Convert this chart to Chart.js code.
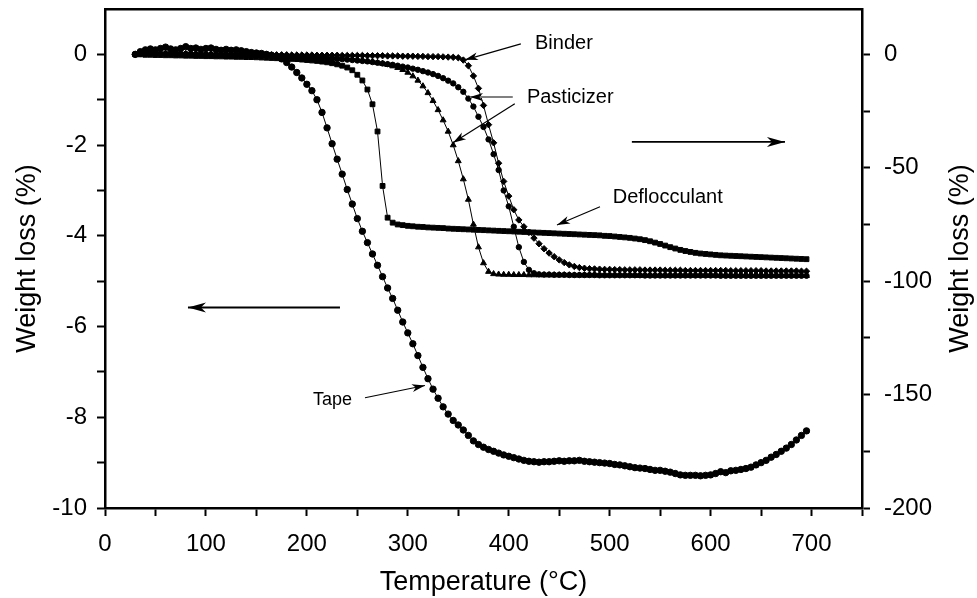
<!DOCTYPE html>
<html>
<head>
<meta charset="utf-8">
<script src="https://cdn.jsdelivr.net/npm/chart.js@4.4.0/dist/chart.umd.min.js"></script>
<style>
  body { margin: 0; background: #fff; }
  canvas { display: block; }
</style>
</head>
<body>
<canvas id="tga" width="977" height="598"></canvas>
<script>
// Temperatura de cada punto (°C)
const temps = [
  30, 35, 40, 45, 50, 55, 60, 65, 70, 75,
  80, 85, 90, 95, 100, 105, 110, 115, 120, 125,
  130, 135, 140, 145, 150, 155, 160, 165, 170, 175,
  180, 185, 190, 195, 200, 205, 210, 215, 220, 225,
  230, 235, 240, 245, 250, 255, 260, 265, 270, 275,
  280, 285, 290, 295, 300, 305, 310, 315, 320, 325,
  330, 335, 340, 345, 350, 355, 360, 365, 370, 375,
  380, 385, 390, 395, 400, 405, 410, 415, 420, 425,
  430, 435, 440, 445, 450, 455, 460, 465, 470, 475,
  480, 485, 490, 495, 500, 505, 510, 515, 520, 525,
  530, 535, 540, 545, 550, 555, 560, 565, 570, 575,
  580, 585, 590, 595, 600, 605, 610, 615, 620, 625,
  630, 635, 640, 645, 650, 655, 660, 665, 670, 675,
  680, 685, 690, 695,
];

// Tape -> eje izquierdo (%)
const tape = [
  0, 0.06, 0.1, 0.12, 0.1, 0.13, 0.16, 0.12, 0.1, 0.13,
  0.17, 0.13, 0.14, 0.11, 0.13, 0.14, 0.11, 0.09, 0.11, 0.09,
  0.1, 0.08, 0.06, 0.04, 0.03, 0.02, 0, -0.02, -0.05, -0.1,
  -0.18, -0.28, -0.4, -0.52, -0.66, -0.8, -1.0, -1.28, -1.62, -1.97,
  -2.31, -2.64, -2.98, -3.3, -3.62, -3.9, -4.15, -4.4, -4.65, -4.9,
  -5.15, -5.38, -5.64, -5.9, -6.14, -6.38, -6.64, -6.9, -7.15, -7.38,
  -7.58, -7.77, -7.93, -8.07, -8.17, -8.28, -8.4, -8.52, -8.6, -8.66,
  -8.71, -8.75, -8.79, -8.83, -8.86, -8.89, -8.92, -8.95, -8.97, -8.98,
  -8.99, -8.98, -8.98, -8.97, -8.96, -8.97, -8.96, -8.96, -8.95, -8.97,
  -8.98, -8.99, -9.0, -9.01, -9.02, -9.04, -9.05, -9.07, -9.09, -9.11,
  -9.12, -9.13, -9.15, -9.17, -9.17, -9.19, -9.21, -9.24, -9.27, -9.28,
  -9.28, -9.28, -9.29, -9.28, -9.27, -9.24, -9.2, -9.22, -9.18, -9.17,
  -9.15, -9.13, -9.1, -9.05, -9.0, -8.95, -8.88, -8.82, -8.75, -8.68,
  -8.6, -8.5, -8.4, -8.3,
];

// Deflocculant -> eje derecho (%)
const deflocculant = [
  0, 0, -0.2, -0.2, -0.3, -0.3, -0.4, -0.4, -0.5, -0.5,
  -0.6, -0.6, -0.7, -0.7, -0.8, -0.8, -0.9, -0.9, -1.0, -1.0,
  -1.1, -1.1, -1.2, -1.2, -1.3, -1.4, -1.5, -1.6, -1.7, -1.8,
  -1.9, -2.0, -2.1, -2.3, -2.5, -2.7, -2.9, -3.2, -3.5, -3.9,
  -4.4, -5.0, -5.8, -7.0, -9.0, -11.5, -15.5, -22, -34, -58,
  -72, -74.2, -75, -75.3, -75.6, -75.8, -76, -76.1, -76.3, -76.4,
  -76.5, -76.6, -76.8, -76.9, -77, -77.1, -77.2, -77.3, -77.4, -77.5,
  -77.6, -77.7, -77.8, -77.9, -78, -78.1, -78.2, -78.3, -78.4, -78.5,
  -78.6, -78.7, -78.8, -78.9, -79, -79.1, -79.2, -79.3, -79.4, -79.5,
  -79.6, -79.7, -79.8, -80, -80.1, -80.3, -80.5, -80.7, -80.9, -81.2,
  -81.5, -81.9, -82.4, -83, -83.6, -84.3, -85, -85.6, -86.2, -86.7,
  -87.1, -87.5, -87.8, -88, -88.2, -88.4, -88.6, -88.7, -88.8, -88.9,
  -89, -89.1, -89.2, -89.3, -89.4, -89.5, -89.6, -89.7, -89.8, -89.9,
  -90, -90.1, -90.2, -90.3,
];

// Binder -> eje derecho (%)
const binder = [
  0, 0.3, 0.4, 0.3, 0.4, 0.3, 0.4, 0.3, 0.3, 0.4,
  0.3, 0.3, 0.2, 0.2, 0.2, 0.1, 0.1, 0.1, 0, 0,
  0, 0, -0.1, -0.1, -0.1, -0.1, -0.2, -0.2, -0.2, -0.2,
  -0.2, -0.3, -0.3, -0.3, -0.3, -0.3, -0.4, -0.4, -0.4, -0.4,
  -0.4, -0.5, -0.5, -0.5, -0.5, -0.5, -0.6, -0.6, -0.6, -0.6,
  -0.7, -0.7, -0.7, -0.8, -0.8, -0.8, -0.9, -0.9, -1.0, -1.0,
  -1.0, -1.1, -1.2, -1.3, -1.5, -2.5, -5, -9.5, -15, -22.5,
  -31, -39, -48, -56, -62.5, -68.5, -73, -76, -78.5, -81,
  -83.5, -85.7, -87.6, -89.2, -90.6, -91.8, -92.8, -93.5, -94, -94.3,
  -94.5, -94.6, -94.7, -94.8, -94.8, -94.9, -94.9, -95, -95, -95,
  -95, -95.1, -95.1, -95.1, -95.1, -95.2, -95.2, -95.2, -95.2, -95.3,
  -95.3, -95.3, -95.3, -95.3, -95.3, -95.3, -95.3, -95.3, -95.4, -95.4,
  -95.4, -95.4, -95.4, -95.4, -95.4, -95.5, -95.5, -95.5, -95.5, -95.5,
  -95.5, -95.5, -95.6, -95.6,
];

// Plasticizer (triángulos) -> eje derecho (%)
const plastTri = [
  0, 0.2, 0.3, 0.2, 0.3, 0.2, 0.3, 0.2, 0.2, 0.2,
  0.1, 0.1, 0.1, 0, 0, 0, -0.1, -0.1, -0.1, -0.2,
  -0.2, -0.2, -0.3, -0.3, -0.3, -0.4, -0.4, -0.5, -0.5, -0.6,
  -0.6, -0.7, -0.7, -0.8, -0.9, -1.0, -1.1, -1.2, -1.3, -1.5,
  -1.6, -1.8, -2.0, -2.2, -2.4, -2.7, -3.0, -3.3, -3.7, -4.1,
  -4.6, -5.2, -5.9, -6.8, -8, -9.6, -11.5, -14, -17, -20.5,
  -24.5, -29, -34, -40, -47, -55, -64, -75, -85, -92,
  -95.8, -96.8, -97, -97.1, -97.1, -97.2, -97.2, -97.2, -97.3, -97.3,
  -97.3, -97.3, -97.3, -97.3, -97.3, -97.3, -97.3, -97.4, -97.4, -97.4,
  -97.4, -97.4, -97.4, -97.4, -97.4, -97.4, -97.4, -97.4, -97.4, -97.5,
  -97.5, -97.5, -97.5, -97.5, -97.5, -97.5, -97.5, -97.5, -97.5, -97.5,
  -97.5, -97.5, -97.5, -97.5, -97.5, -97.5, -97.5, -97.6, -97.6, -97.6,
  -97.6, -97.6, -97.6, -97.6, -97.6, -97.6, -97.6, -97.6, -97.6, -97.6,
  -97.6, -97.6, -97.6, -97.6,
];

// Plasticizer (círculos) -> eje derecho (%)
const plastCirc = [
  0, 0.2, 0.3, 0.3, 0.2, 0.3, 0.3, 0.2, 0.3, 0.2,
  0.2, 0.2, 0.1, 0.1, 0, 0, 0, -0.1, -0.1, -0.2,
  -0.2, -0.3, -0.3, -0.4, -0.4, -0.5, -0.5, -0.6, -0.7, -0.7,
  -0.8, -0.9, -1.0, -1.1, -1.2, -1.3, -1.4, -1.5, -1.7, -1.8,
  -2.0, -2.1, -2.3, -2.5, -2.7, -2.9, -3.1, -3.4, -3.7, -4.0,
  -4.3, -4.6, -5.0, -5.4, -5.8, -6.3, -6.8, -7.4, -8.0, -8.7,
  -9.5, -10.5, -11.6, -12.8, -14.5, -16.5, -19.5, -23, -27.5, -32,
  -37.5, -44, -51, -60, -67, -76, -85, -91.5, -95, -96.5,
  -97, -97.1, -97.1, -97.2, -97.2, -97.2, -97.3, -97.3, -97.3, -97.3,
  -97.3, -97.3, -97.4, -97.4, -97.4, -97.4, -97.4, -97.4, -97.4, -97.4,
  -97.4, -97.5, -97.5, -97.5, -97.5, -97.5, -97.5, -97.5, -97.5, -97.5,
  -97.5, -97.5, -97.5, -97.5, -97.5, -97.5, -97.6, -97.6, -97.6, -97.6,
  -97.6, -97.6, -97.6, -97.6, -97.6, -97.6, -97.6, -97.6, -97.6, -97.6,
  -97.6, -97.6, -97.6, -97.6,
];

// Ticks de los ejes
const xTicks = [0, 50, 100, 150, 200, 250, 300, 350, 400, 450, 500, 550, 600, 650, 700, 750];
const leftTicks = [-10, -9, -8, -7, -6, -5, -4, -3, -2, -1, 0];
const rightTicks = [-200, -175, -150, -125, -100, -75, -50, -25, 0];

// Anotaciones (coordenadas en unidades de datos: °C y eje izquierdo)
const notas = [
  { text: "Binder", x: 426, y: 0.25, size: 20 },
  { text: "Pasticizer", x: 418, y: -0.94, size: 20 },
  { text: "Deflocculant", x: 503, y: -3.16, size: 20 },
  { text: "Tape", x: 206, y: -7.61, size: 18 },
];
const flechas = [
  { from: [412, 0.23], to: [356.7, -0.12] },
  { from: [404, -0.94], to: [361.6, -0.94], color: "#808080", width: 2 },
  { from: [406, -1.09], to: [344.8, -1.95] },
  { from: [490.4, -3.36], to: [447.8, -3.76] },
  { from: [257.6, -7.57], to: [317, -7.3] },
  { from: [232.8, -5.58], to: [82.2, -5.58], big: true },
  { from: [522, -1.93], to: [673.7, -1.93], big: true },
];

const fuente = "'Liberation Sans', Arial, sans-serif";

const pares = (vals) => temps.map((t, i) => ({ x: t, y: vals[i] }));

function serie(label, vals, eje, estilo, radio) {
  return {
    label: label,
    data: pares(vals),
    yAxisID: eje,
    borderColor: "#000",
    borderWidth: 1,
    pointStyle: estilo,
    pointRadius: radio,
    pointBackgroundColor: "#000",
    pointBorderColor: "#000",
    pointBorderWidth: 1,
    tension: 0,
  };
}

function cabeza(ctx, x0, y0, x1, y1, len, ancho) {
  const ang = Math.atan2(y1 - y0, x1 - x0);
  ctx.save();
  ctx.translate(x1, y1);
  ctx.rotate(ang);
  ctx.beginPath();
  ctx.moveTo(0, 0);
  ctx.lineTo(-len, -ancho / 2);
  ctx.lineTo(-len * 0.72, 0);
  ctx.lineTo(-len, ancho / 2);
  ctx.closePath();
  ctx.fill();
  ctx.restore();
}

const extras = {
  id: "extras",
  afterDraw(chart) {
    const { ctx, chartArea: a, scales } = chart;
    const sx = scales.x, sy = scales.y;
    ctx.save();
    ctx.fillStyle = "#000";

    // flechas
    flechas.forEach((f) => {
      const x0 = sx.getPixelForValue(f.from[0]), y0 = sy.getPixelForValue(f.from[1]);
      const x1 = sx.getPixelForValue(f.to[0]), y1 = sy.getPixelForValue(f.to[1]);
      ctx.strokeStyle = f.color || "#000";
      ctx.lineWidth = f.width || (f.big ? 1.8 : 1.2);
      ctx.beginPath();
      ctx.moveTo(x0, y0);
      ctx.lineTo(x1, y1);
      ctx.stroke();
      ctx.fillStyle = "#000";
      if (f.big) cabeza(ctx, x0, y0, x1, y1, 18, 10);
      else cabeza(ctx, x0, y0, x1, y1, 13, 8);
    });

    // textos
    ctx.textAlign = "left";
    ctx.textBaseline = "middle";
    notas.forEach((n) => {
      ctx.font = n.size + "px " + fuente;
      ctx.fillText(n.text, sx.getPixelForValue(n.x), sy.getPixelForValue(n.y));
    });

    // títulos de ejes
    ctx.font = "27px " + fuente;
    ctx.textAlign = "center";
    ctx.textBaseline = "alphabetic";
    const cy = (a.top + a.bottom) / 2;
    ctx.fillText("Temperature (°C)", (a.left + a.right) / 2, 590);
    [35, 968].forEach((bx) => {
      ctx.save();
      ctx.translate(bx, cy);
      ctx.rotate(-Math.PI / 2);
      ctx.fillText("Weight loss (%)", 0, 0);
      ctx.restore();
    });
    ctx.restore();
  },
};

const ejeBase = (pos) => ({
  type: "linear",
  position: pos,
  grid: { drawOnChartArea: false, drawTicks: true, tickLength: 8, tickWidth: 2, tickColor: "#000" },
  border: { display: true, color: "#000", width: 2.5 },
});

// sin márgenes extra por las etiquetas de los extremos
const sinPadding = (s) => {
  s.paddingTop = 0;
  s.paddingBottom = 0;
  s.paddingLeft = 0;
  s.paddingRight = 0;
};

const ctxGrafico = document.getElementById("tga").getContext("2d");
new Chart(ctxGrafico, {
  type: "line",
  data: {
    datasets: [
      serie("Tape", tape, "y", "circle", 3.2),
      serie("Deflocculant", deflocculant, "y2", "rect", 3.4),
      serie("Binder", binder, "y2", "rectRot", 3.2),
      serie("Plasticizer A", plastTri, "y2", "triangle", 3.4),
      serie("Plasticizer B", plastCirc, "y2", "circle", 2.7),
    ],
  },
  options: {
    responsive: false,
    animation: false,
    layout: { padding: 0 },
    plugins: { legend: { display: false }, tooltip: { enabled: false } },
    scales: {
      x: {
        ...ejeBase("bottom"),
        min: 0,
        max: 750,
        afterBuildTicks: (s) => { s.ticks = xTicks.map((v) => ({ value: v })); },
        afterFit: (s) => { sinPadding(s); s.height = 90; },
        ticks: {
          color: "#000", autoSkip: false, maxRotation: 0, padding: 14,
          font: { family: fuente, size: 24 },
          callback: (v) => (v % 100 === 0 && v <= 700 ? String(v) : ""),
        },
      },
      xTop: {
        type: "linear",
        position: "top",
        min: 0,
        max: 750,
        grid: { display: false },
        ticks: { display: false },
        border: { display: true, color: "#000", width: 2.5 },
        afterFit: (s) => { sinPadding(s); s.height = 9; },
      },
      y: {
        ...ejeBase("left"),
        min: -10,
        max: 1,
        afterBuildTicks: (s) => { s.ticks = leftTicks.map((v) => ({ value: v })); },
        afterFit: (s) => { sinPadding(s); s.width = 105; },
        ticks: {
          color: "#000", autoSkip: false, padding: 10,
          font: { family: fuente, size: 24 },
          callback: (v) => (v % 2 === 0 ? String(v) : ""),
        },
      },
      y2: {
        ...ejeBase("right"),
        min: -200,
        max: 20,
        afterBuildTicks: (s) => { s.ticks = rightTicks.map((v) => ({ value: v })); },
        afterFit: (s) => { sinPadding(s); s.width = 115; },
        ticks: {
          color: "#000", autoSkip: false, padding: 14,
          font: { family: fuente, size: 24 },
          callback: (v) => (v % 50 === 0 ? String(v) : ""),
        },
      },
    },
  },
  plugins: [extras],
});
</script>
</body>
</html>
